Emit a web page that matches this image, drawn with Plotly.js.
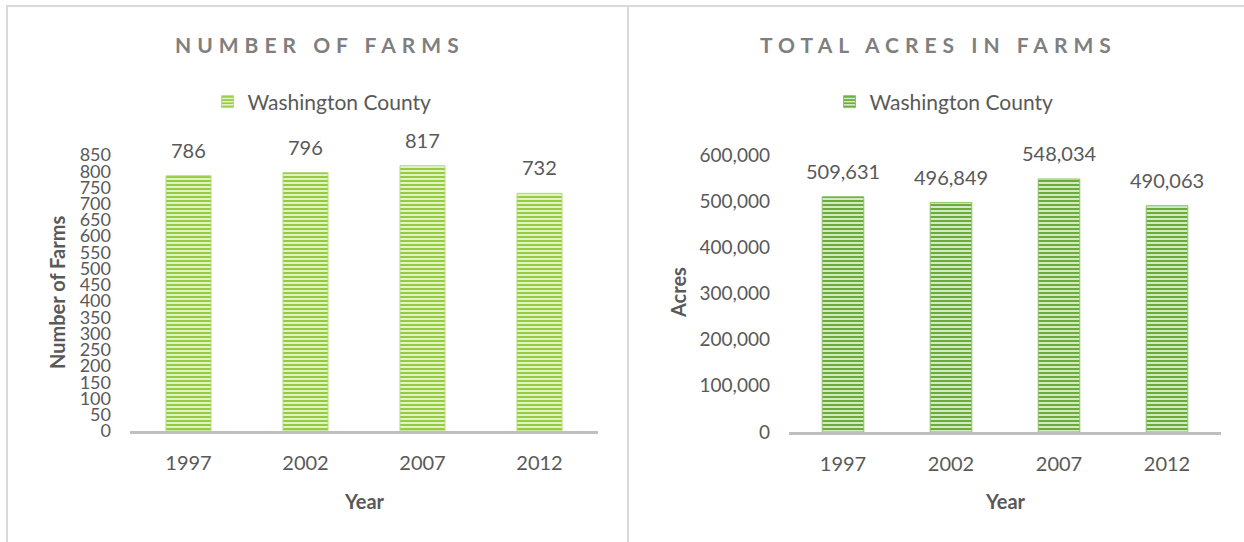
<!DOCTYPE html>
<html>
<head>
<meta charset="utf-8">
<script src="https://cdn.plot.ly/plotly-3.0.1.min.js"></script>
<style>
html,body{margin:0;padding:0;background:#fff;}
#chart{width:1244px;height:542px;}
</style>
</head>
<body>
<div id="chart"></div>
<script>
// ---- data ----
var years = ["1997", "2002", "2007", "2012"];
var farmsCount = [786, 796, 817, 732];
var acresInFarms = [509631, 496849, 548034, 490063];
var seriesName = "Washington County";
var farmsTicks = [0,50,100,150,200,250,300,350,400,450,500,550,600,650,700,750,800,850];
var acresTicks = [0,100000,200000,300000,400000,500000,600000];

var W = 1244, H = 542;
function px(x){ return x / W; }
function py(y){ return (H - y) / H; }

var FONT = "Lato, 'Open Sans', sans-serif";
var TXT = "#595959";

function fmt(v){ return v.toLocaleString('en-US'); }

var traces = [
  {
    type: 'bar', x: years, y: farmsCount, name: seriesName,
    xaxis: 'x', yaxis: 'y', legend: 'legend',
    marker: {
      color: '#dcefc0',
      line: {color: '#b5dc7e', width: 1},
      pattern: {shape: '-', fgcolor: '#95cc3f', bgcolor: '#e2f2c8', size: 4, solidity: 0.5}
    },
    hoverinfo: 'none'
  },
  {
    type: 'bar', x: years, y: acresInFarms, name: seriesName,
    xaxis: 'x2', yaxis: 'y2', legend: 'legend2',
    marker: {
      color: '#cfe5c0',
      line: {color: '#8cc265', width: 1},
      pattern: {shape: '-', fgcolor: '#6aab3a', bgcolor: '#d4e9c6', size: 4, solidity: 0.5}
    },
    hoverinfo: 'none'
  }
];

var annotations = [];
// chart titles
annotations.push({text: 'NUMBER OF FARMS', xref: 'paper', yref: 'paper', x: px(320), y: py(45),
  xanchor: 'center', yanchor: 'middle', showarrow: false,
  font: {family: FONT, size: 21, color: '#7f7f7f', weight: 'bold'}});
annotations.push({text: 'TOTAL ACRES IN FARMS', xref: 'paper', yref: 'paper', x: px(939), y: py(45),
  xanchor: 'center', yanchor: 'middle', showarrow: false,
  font: {family: FONT, size: 21, color: '#7f7f7f', weight: 'bold'}});
// axis titles
annotations.push({text: 'Number of Farms', xref: 'paper', yref: 'paper', x: px(57), y: py(293),
  xanchor: 'center', yanchor: 'middle', textangle: -90, showarrow: false,
  font: {family: FONT, size: 20, color: TXT, weight: 'bold'}});
annotations.push({text: 'Acres', xref: 'paper', yref: 'paper', x: px(678), y: py(293),
  xanchor: 'center', yanchor: 'middle', textangle: -90, showarrow: false,
  font: {family: FONT, size: 20, color: TXT, weight: 'bold'}});
annotations.push({text: 'Year', xref: 'paper', yref: 'paper', x: px(364), y: py(501),
  xanchor: 'center', yanchor: 'middle', showarrow: false,
  font: {family: FONT, size: 20, color: TXT, weight: 'bold'}});
annotations.push({text: 'Year', xref: 'paper', yref: 'paper', x: px(1005), y: py(501),
  xanchor: 'center', yanchor: 'middle', showarrow: false,
  font: {family: FONT, size: 20, color: TXT, weight: 'bold'}});
// data labels (x given as category index)
years.forEach(function(yr, i){
  annotations.push({text: fmt(farmsCount[i]), xref: 'x', yref: 'y', x: i, y: farmsCount[i],
    yshift: 26, xanchor: 'center', yanchor: 'middle', showarrow: false,
    font: {family: FONT, size: 20, color: TXT}});
  annotations.push({text: fmt(acresInFarms[i]), xref: 'x2', yref: 'y2', x: i, y: acresInFarms[i],
    yshift: 26, xanchor: 'center', yanchor: 'middle', showarrow: false,
    font: {family: FONT, size: 20, color: TXT}});
});

var borderColor = '#d9d9d9';
var shapes = [
  {type: 'line', xref: 'paper', yref: 'paper', x0: px(6), x1: 1, y0: py(6), y1: py(6), line: {color: borderColor, width: 2}},
  {type: 'line', xref: 'paper', yref: 'paper', x0: px(7), x1: px(7), y0: 0, y1: py(6), line: {color: borderColor, width: 2}},
  {type: 'line', xref: 'paper', yref: 'paper', x0: px(628), x1: px(628), y0: 0, y1: py(6), line: {color: borderColor, width: 2}}
];

function xAxis(dom, anchor){
  return {
    type: 'category', categoryorder: 'array', categoryarray: years,
    range: [-0.5, years.length - 0.5], autorange: false,
    domain: dom, anchor: anchor,
    showgrid: false, zeroline: false, showline: true,
    linecolor: '#bfbfbf', linewidth: 3, ticks: '', ticklabelstandoff: 12,
    tickfont: {family: FONT, size: 20, color: TXT}, fixedrange: true
  };
}
var layout = {
  width: W, height: H,
  margin: {l: 0, r: 0, t: 0, b: 0},
  paper_bgcolor: '#ffffff', plot_bgcolor: 'rgba(0,0,0,0)',
  bargap: 0.615,
  font: {family: FONT, color: TXT},
  xaxis: xAxis([px(130), px(598)], 'y'),
  yaxis: {domain: [py(431), py(155)], range: [0, 850], autorange: false, anchor: 'x',
    tickmode: 'array', tickvals: farmsTicks, ticktext: farmsTicks.map(fmt),
    showgrid: false, zeroline: false, showline: false, ticks: '', ticklabelstandoff: 18,
    tickfont: {family: FONT, size: 18, color: TXT}, fixedrange: true},
  xaxis2: xAxis([px(789), px(1221)], 'y2'),
  yaxis2: {domain: [py(432), py(155)], range: [0, 600000], autorange: false, anchor: 'x2',
    tickmode: 'array', tickvals: acresTicks, ticktext: acresTicks.map(fmt),
    showgrid: false, zeroline: false, showline: false, ticks: '', ticklabelstandoff: 18,
    tickfont: {family: FONT, size: 19, color: TXT}, fixedrange: true},
  showlegend: true,
  legend: {orientation: 'h', x: px(322), y: py(102), xanchor: 'center', yanchor: 'middle',
    font: {family: FONT, size: 21, color: TXT}, bgcolor: 'rgba(0,0,0,0)', itemwidth: 30},
  legend2: {orientation: 'h', x: px(944), y: py(102), xanchor: 'center', yanchor: 'middle',
    font: {family: FONT, size: 21, color: TXT}, bgcolor: 'rgba(0,0,0,0)', itemwidth: 30},
  annotations: annotations,
  shapes: shapes
};

Plotly.newPlot('chart', traces, layout, {displayModeBar: false, staticPlot: true}).then(function(){
  var items = document.querySelectorAll('#chart g.annotation');
  items.forEach(function(g){
    var idx = +g.getAttribute('data-index');
    if (idx === 0 || idx === 1) {
      var t = g.querySelector('text.annotation-text');
      if (t) t.style.letterSpacing = '6px';
    }
  });
});
</script>
</body>
</html>
